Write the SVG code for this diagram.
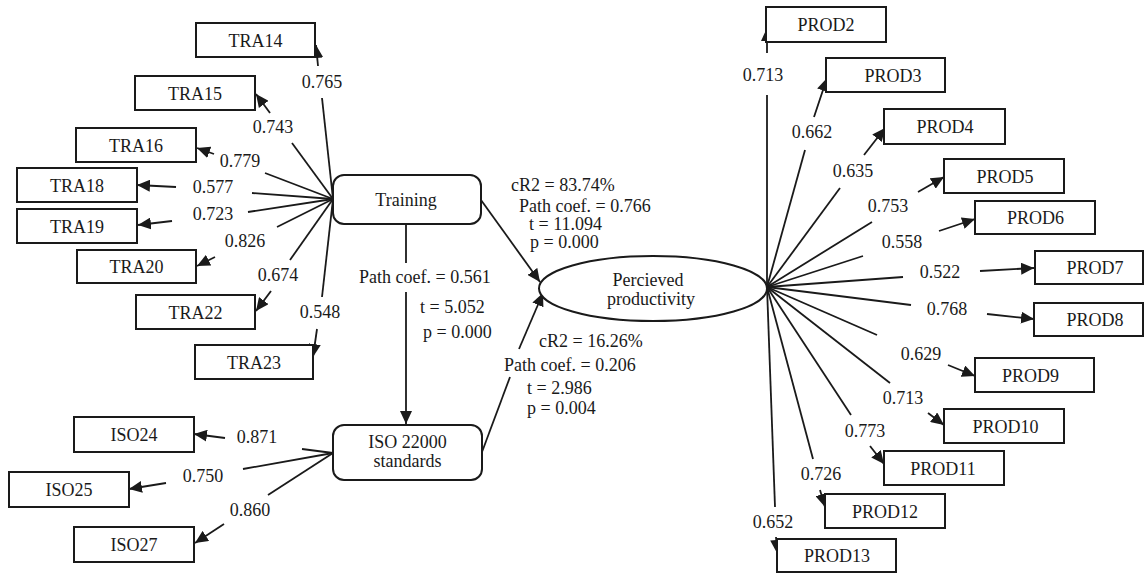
<svg xmlns="http://www.w3.org/2000/svg" width="1146" height="573" viewBox="0 0 1146 573">
<style>
text{font-family:'Liberation Serif','Times New Roman',Times,serif;font-size:18px;fill:#1a1a1a}
.c{text-anchor:middle}
.box{fill:#fff;stroke:#1a1a1a;stroke-width:2}
.ln{stroke:#1a1a1a;stroke-width:1.8;fill:none}
.ar{stroke:#1a1a1a;stroke-width:1.8;fill:none;marker-end:url(#ah)}
</style>
<defs>
<marker id="ah" markerUnits="userSpaceOnUse" markerWidth="14" markerHeight="12" refX="13" refY="6" orient="auto">
<path d="M0,0 L13,6 L0,12 z" fill="#1a1a1a"/>
</marker>
</defs>
<rect width="1146" height="573" fill="#fff"/>
<g font-family="'Liberation Serif', 'Times New Roman', serif" font-size="18">
<g id="connectors">
<line class="ln" x1="333" y1="199" x2="322" y2="98"/><line class="ar" x1="318" y1="66" x2="316" y2="45"/>
<line class="ln" x1="333" y1="199" x2="292" y2="143"/><line class="ar" x1="270" y1="113" x2="256" y2="94"/>
<line class="ln" x1="333" y1="199" x2="265" y2="173"/><line class="ar" x1="214" y1="154" x2="197" y2="148"/>
<line class="ln" x1="333" y1="199" x2="252" y2="193"/><line class="ar" x1="176" y1="187" x2="137" y2="185"/>
<line class="ln" x1="333" y1="199" x2="248" y2="212"/><line class="ar" x1="172" y1="221" x2="138" y2="225"/>
<line class="ln" x1="333" y1="199" x2="277" y2="227"/><line class="ar" x1="215" y1="257" x2="197" y2="266"/>
<line class="ln" x1="333" y1="199" x2="290" y2="260"/><line class="ar" x1="271" y1="291" x2="256" y2="311"/>
<line class="ln" x1="333" y1="199" x2="322" y2="297"/><line class="ar" x1="317" y1="329" x2="313" y2="357"/>
<line class="ln" x1="333" y1="453" x2="302" y2="449"/><line class="ar" x1="225" y1="438" x2="194" y2="434"/>
<line class="ln" x1="333" y1="453" x2="243" y2="469"/><line class="ar" x1="166" y1="483" x2="129" y2="489"/>
<line class="ln" x1="333" y1="453" x2="268" y2="495"/><line class="ar" x1="224" y1="524" x2="195" y2="543"/>
<line class="ln" x1="767" y1="287" x2="767" y2="95"/><line class="ar" x1="767" y1="53" x2="767" y2="28"/>
<line class="ln" x1="767" y1="287" x2="805" y2="150"/><line class="ar" x1="814" y1="117" x2="827" y2="78"/>
<line class="ln" x1="767" y1="287" x2="840" y2="188"/><line class="ar" x1="864" y1="155" x2="885" y2="128"/>
<line class="ln" x1="767" y1="287" x2="872" y2="222"/><line class="ar" x1="918" y1="192" x2="944" y2="177"/>
<line class="ln" x1="767" y1="287" x2="863" y2="256"/><line class="ar" x1="939" y1="231" x2="975" y2="219"/>
<line class="ln" x1="767" y1="287" x2="903" y2="277"/><line class="ar" x1="980" y1="271" x2="1034" y2="268"/>
<line class="ln" x1="767" y1="287" x2="911" y2="305"/><line class="ar" x1="987" y1="314" x2="1034" y2="319"/>
<line class="ln" x1="767" y1="287" x2="877" y2="335"/><line class="ar" x1="948" y1="365" x2="975" y2="376"/>
<line class="ln" x1="767" y1="287" x2="890" y2="383"/><line class="ar" x1="928" y1="413" x2="944" y2="425"/>
<line class="ln" x1="767" y1="287" x2="851" y2="415"/><line class="ar" x1="870" y1="446" x2="884" y2="464"/>
<line class="ln" x1="767" y1="287" x2="813" y2="459"/><line class="ar" x1="820" y1="490" x2="825" y2="507"/>
<line class="ln" x1="767" y1="287" x2="775" y2="507"/><line class="ar" x1="776" y1="537" x2="777" y2="553"/>
<line class="ar" x1="481" y1="200" x2="540" y2="282"/>
<line class="ln" x1="482" y1="452" x2="510" y2="377"/><line class="ar" x1="519" y1="349" x2="543" y2="293"/>
<line class="ln" x1="406" y1="224" x2="406" y2="263"/><line class="ar" x1="406" y1="292" x2="406" y2="424"/>
</g>
<g id="loading-labels">
<text class="c" x="322" y="88">0.765</text>
<text class="c" x="273" y="133">0.743</text>
<text class="c" x="240" y="167">0.779</text>
<text class="c" x="213" y="193">0.577</text>
<text class="c" x="213" y="220">0.723</text>
<text class="c" x="245" y="247">0.826</text>
<text class="c" x="278" y="281">0.674</text>
<text class="c" x="320" y="318">0.548</text>
<text class="c" x="257" y="443">0.871</text>
<text class="c" x="203" y="482">0.750</text>
<text class="c" x="250" y="516">0.860</text>
<text class="c" x="763" y="81">0.713</text>
<text class="c" x="812" y="138">0.662</text>
<text class="c" x="853" y="177">0.635</text>
<text class="c" x="888" y="212">0.753</text>
<text class="c" x="902" y="248">0.558</text>
<text class="c" x="940" y="278">0.522</text>
<text class="c" x="947" y="315">0.768</text>
<text class="c" x="921" y="360">0.629</text>
<text class="c" x="903" y="404">0.713</text>
<text class="c" x="865" y="437">0.773</text>
<text class="c" x="821" y="480">0.726</text>
<text class="c" x="773" y="528">0.652</text>
</g>
<g id="path-labels">
<text x="511" y="191">cR2 = 83.74%</text>
<text x="519" y="212">Path coef. = 0.766</text>
<text x="529" y="230">t = 11.094</text>
<text x="530" y="248">p = 0.000</text>
<text x="359" y="283">Path coef. = 0.561</text>
<text x="420" y="313">t = 5.052</text>
<text x="423" y="338">p = 0.000</text>
<text x="539" y="347">cR2 = 16.26%</text>
<text x="504" y="371">Path coef. = 0.206</text>
<text x="527" y="394">t = 2.986</text>
<text x="527" y="414">p = 0.004</text>
</g>
<g id="TRA14"><rect class="box" x="196" y="23" width="119" height="34"/><text class="c" x="255.5" y="46.5">TRA14</text></g>
<g id="TRA15"><rect class="box" x="135" y="76" width="120" height="34"/><text class="c" x="195" y="99.5">TRA15</text></g>
<g id="TRA16"><rect class="box" x="76" y="128" width="120" height="34"/><text class="c" x="136" y="151.5">TRA16</text></g>
<g id="TRA18"><rect class="box" x="17" y="168" width="120" height="34"/><text class="c" x="77" y="191.5">TRA18</text></g>
<g id="TRA19"><rect class="box" x="17" y="209" width="120" height="34"/><text class="c" x="77" y="232.5">TRA19</text></g>
<g id="TRA20"><rect class="box" x="77" y="250" width="119" height="33"/><text class="c" x="136.5" y="273">TRA20</text></g>
<g id="TRA22"><rect class="box" x="136" y="295" width="119" height="34"/><text class="c" x="195.5" y="318.5">TRA22</text></g>
<g id="TRA23"><rect class="box" x="195" y="345" width="118" height="34"/><text class="c" x="254" y="368.5">TRA23</text></g>
<g id="ISO24"><rect class="box" x="74" y="417" width="120" height="35"/><text class="c" x="134" y="441">ISO24</text></g>
<g id="ISO25"><rect class="box" x="9" y="472" width="120" height="35"/><text class="c" x="69" y="496">ISO25</text></g>
<g id="ISO27"><rect class="box" x="74" y="527" width="120" height="35"/><text class="c" x="134" y="551">ISO27</text></g>
<g id="Training"><rect class="box" x="333" y="175" width="148" height="49" rx="11"/><text class="c" x="406" y="206">Training</text></g>
<g id="ISO22000"><rect class="box" x="333" y="425" width="149" height="55" rx="11"/><text class="c" x="407.5" y="448">ISO 22000</text><text class="c" x="407.5" y="467">standards</text></g>
<g id="Productivity"><ellipse class="box" cx="653" cy="288.5" rx="114" ry="32.5"/><text class="c" x="648" y="286">Percieved</text><text class="c" x="651" y="305">productivity</text></g>
<g id="PROD2"><rect class="box" x="766" y="7" width="120" height="35"/><text class="c" x="826" y="31">PROD2</text></g>
<g id="PROD3"><rect class="box" x="826" y="58" width="119" height="34"/><text class="c" x="893" y="81.5">PROD3</text></g>
<g id="PROD4"><rect class="box" x="884" y="109" width="121" height="35"/><text class="c" x="945" y="133">PROD4</text></g>
<g id="PROD5"><rect class="box" x="944" y="159" width="120" height="34"/><text class="c" x="1005" y="182.5">PROD5</text></g>
<g id="PROD6"><rect class="box" x="975" y="201" width="120" height="33"/><text class="c" x="1035.5" y="224">PROD6</text></g>
<g id="PROD7"><rect class="box" x="1035" y="251" width="108" height="33"/><text class="c" x="1095" y="274">PROD7</text></g>
<g id="PROD8"><rect class="box" x="1034" y="303" width="109" height="33"/><text class="c" x="1095" y="326">PROD8</text></g>
<g id="PROD9"><rect class="box" x="975" y="358" width="119" height="34"/><text class="c" x="1030.5" y="381.5">PROD9</text></g>
<g id="PROD10"><rect class="box" x="944" y="409" width="120" height="34"/><text class="c" x="1005.5" y="432.5">PROD10</text></g>
<g id="PROD11"><rect class="box" x="884" y="451" width="120" height="34"/><text class="c" x="943" y="474.5">PROD11</text></g>
<g id="PROD12"><rect class="box" x="825" y="494" width="120" height="34"/><text class="c" x="885" y="517.5">PROD12</text></g>
<g id="PROD13"><rect class="box" x="777" y="539" width="119" height="33"/><text class="c" x="837" y="562">PROD13</text></g>
</g>
</svg>
